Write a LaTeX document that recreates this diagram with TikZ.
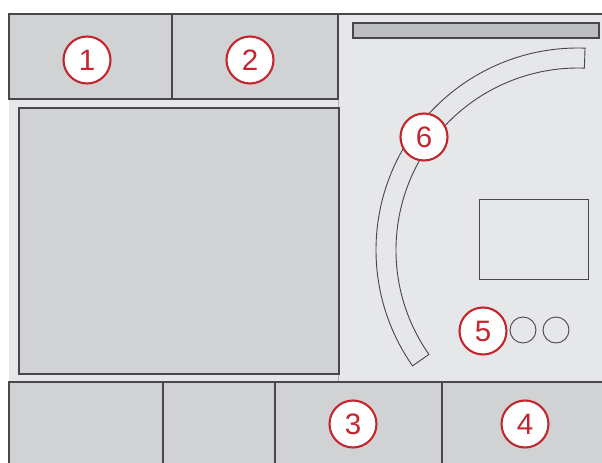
\documentclass[tikz,border=0pt]{standalone}
\definecolor{PanelGray}{RGB}{230, 231, 232}
\definecolor{CellGray}{RGB}{209, 210, 212}
\definecolor{BarGray}{RGB}{188, 190, 192}
\definecolor{LineGray}{RGB}{72, 72, 74}
\definecolor{CalloutRed}{RGB}{196, 38, 46}
\usepackage{fontspec}
\setmainfont{Liberation Sans}
\usepackage{tikz}
\usetikzlibrary{positioning,calc}

\tikzset{
  cell/.style={draw=LineGray, line width=1.6pt, fill=CellGray},
  thinline/.style={draw=LineGray, line width=1.3pt},
  callout/.style={circle, draw=CalloutRed, line width=3pt, fill=white,
                  minimum size=23.5mm, inner sep=0pt, text=CalloutRed,
                  font=\fontsize{42}{42}\selectfont}
}

\begin{document}
\begin{tikzpicture}[x=0.5mm, y=-0.5mm]
                    \useasboundingbox (0,0) rectangle (602,462);
                    % Panel background
                    \fill[PanelGray] (9,14) rectangle (602,462);
                    \draw[gray!60, line width=0.8pt] (338,99) -- (338,382);
                    % Top cells and main area
                    \draw[cell] (9,14) rectangle (172,99);
                    \draw[cell] (172,14) rectangle (338,99);
                    \draw[cell] (19,108) rectangle (339,374);
                    \draw[LineGray, line width=1.6pt] (9,14) -- (604,14);
                    % Bottom row
                    \draw[cell] (9,382) rectangle (163,464);
                    \draw[cell] (163,382) rectangle (275,464);
                    \draw[cell] (275,382) rectangle (442,464);
                    \draw[cell] (442,382) rectangle (604,464);
                    % Right side: bar, curved strip, display, knobs
                    \draw[cell, fill=BarGray] (353,23) rectangle (599,38);
                    \coordinate (ctr) at (578,250);
                    \draw[thinline] ([shift={(-88:202)}]ctr) arc[start angle=-88, end angle=-215, radius=202]
                          -- ([shift={(-215:182)}]ctr) arc[start angle=-215, end angle=-88, radius=182] -- cycle;
                    \draw[thinline] (479,199) rectangle (588,279);
                    \draw[thinline] (523,330) circle[radius=13];
                    \draw[thinline] (556,330) circle[radius=13];
                    % Callouts
                    \node[callout] (one) at (87,60) {1};
                    \node[callout] (two) at (250,60) {2};
                    \node[callout] (three) at (353,424) {3};
                    \node[callout] (four) at (525,424) {4};
                    \node[callout] (five) at (483,331) {5};
                    \node[callout] (six) at (424,137) {6};
                \end{tikzpicture}
\end{document}
